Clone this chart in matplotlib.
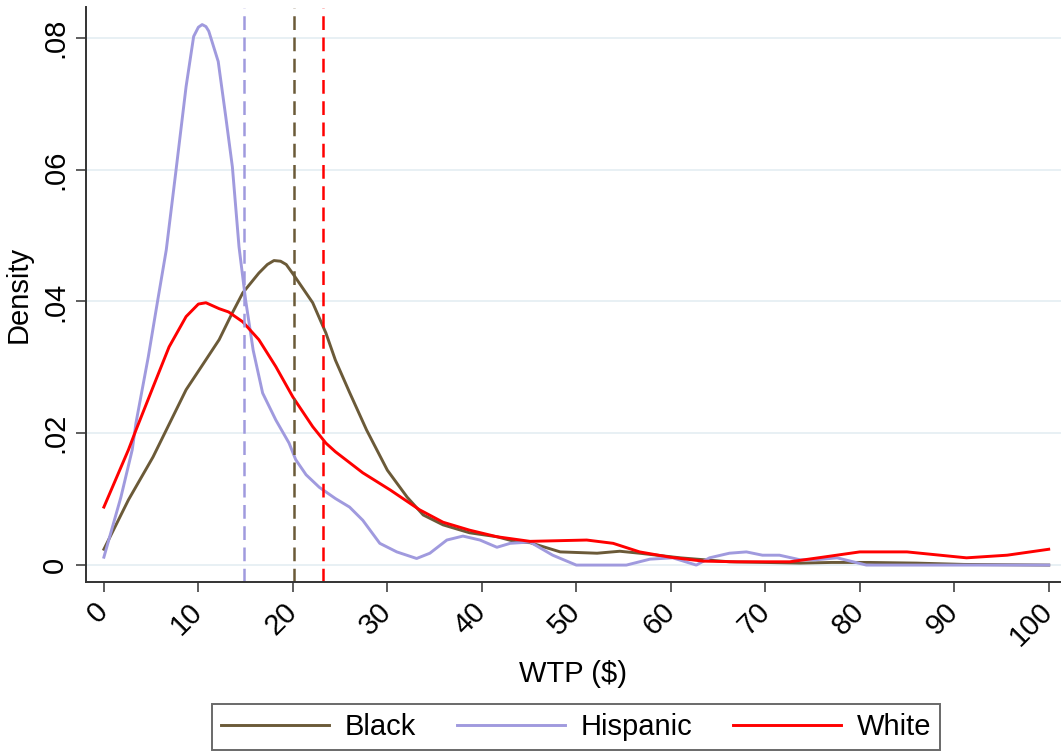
import numpy as np
import matplotlib
matplotlib.use("Agg")
import matplotlib.pyplot as plt

plt.rcParams['font.family'] = ['Liberation Sans', 'DejaVu Sans']

# kernel density curves (x = WTP, y = density)
black_x = [0, 2.6, 5.2, 8.7, 10.5, 12.2, 13.5, 14.7, 16.4, 17.3, 18.0, 18.7,
           19.3, 20.1, 22.1, 23.5, 24.5, 26.0, 27.8, 30.0, 32.1, 33.8, 35.9,
           38.7, 41.6, 43.7, 45.1, 48.3, 52.2, 54.6, 56.7, 61.0, 66.2, 73.7,
           77, 81, 86, 91, 100]
black_y = [0.0024, 0.0099, 0.0164, 0.0266, 0.0305, 0.0342, 0.0380, 0.0413,
           0.0443, 0.0456, 0.0462, 0.0461, 0.0456, 0.0440, 0.0398, 0.0352,
           0.0311, 0.0262, 0.0205, 0.0144, 0.0103, 0.0076, 0.0061, 0.0049,
           0.0043, 0.0035, 0.0034, 0.0020, 0.0018, 0.0021, 0.0018, 0.0011,
           0.0005, 0.0003, 0.0004, 0.0004, 0.0003, 0.0001, 0.0]

hisp_x = [0, 1.8, 3.0, 3.4, 4.7, 5.7, 6.6, 7.6, 8.7, 9.5, 10.0, 10.4, 10.8,
          11.1, 12.1, 12.9, 13.6, 14.3, 15.0, 15.8, 16.8, 18.2, 19.6, 20.3,
          21.4, 22.8, 24.5, 26.0, 27.4, 29.2, 31.0, 33.1, 34.5, 36.3, 38.0,
          39.8, 41.6, 43.0, 45.1, 47.5, 50.0, 55.3, 57.8, 60.2, 62.7, 64.1,
          66.2, 68.0, 69.7, 71.5, 73.7, 75.3, 77.6, 80.7, 100]
hisp_y = [0.0012, 0.0103, 0.0175, 0.0216, 0.0316, 0.0402, 0.0478, 0.0595,
          0.0726, 0.0802, 0.0816, 0.0820, 0.0817, 0.0810, 0.0764, 0.0680,
          0.0604, 0.0483, 0.0402, 0.0326, 0.0261, 0.0220, 0.0185, 0.0160,
          0.0137, 0.0118, 0.0101, 0.0088, 0.0068, 0.0033, 0.0020, 0.0010,
          0.0018, 0.0038, 0.0044, 0.0038, 0.0027, 0.0033, 0.0035, 0.0015,
          0.0, 0.0, 0.0009, 0.0011, 0.0, 0.0011, 0.0018, 0.0020, 0.0015,
          0.0015, 0.0008, 0.0008, 0.0011, 0.0, 0.0]

white_x = [0, 2.6, 3.4, 5.2, 6.9, 8.7, 10.0, 10.8, 12.2, 13.2, 14.7, 16.4,
           18.2, 20.0, 22.1, 23.5, 24.5, 27.4, 30.3, 33.4, 35.9, 38.7, 41.6,
           45.1, 51.1, 53.9, 56.7, 59.9, 63.4, 67.0, 72.6, 76.1, 80.0, 85.0,
           91.3, 95.6, 100]
white_y = [0.0088, 0.0175, 0.0205, 0.0270, 0.0331, 0.0377, 0.0396, 0.0398,
           0.0389, 0.0384, 0.0369, 0.0342, 0.0301, 0.0255, 0.0210, 0.0185,
           0.0172, 0.0140, 0.0114, 0.0084, 0.0065, 0.0053, 0.0043, 0.0036,
           0.0038, 0.0033, 0.0020, 0.0012, 0.0006, 0.0005, 0.0005, 0.0012,
           0.0020, 0.0020, 0.0011, 0.0015, 0.0024]

# group means (dashed lines)
mean_black = 20.1
mean_hisp = 14.8
mean_white = 23.2

xticks = [0, 10, 20, 30, 40, 50, 60, 70, 80, 90, 100]
yticks = [0, 0.02, 0.04, 0.06, 0.08]
ytick_labels = ["0", ".02", ".04", ".06", ".08"]

c_black = "#6b5a38"
c_hisp = "#a09ade"
c_white = "#ff0000"
fs = 21

fig = plt.figure(figsize=(10.61, 7.54), dpi=100)
ax = fig.add_axes([0.081, 0.228, 0.919, 0.763])

for y in yticks:
    ax.axhline(y, color="#e4eef2", lw=1.2, zorder=0)

ax.plot(black_x, black_y, color=c_black, lw=2.1, label="Black")
ax.plot(hisp_x, hisp_y, color=c_hisp, lw=2.1, label="Hispanic")
ax.plot(white_x, white_y, color=c_white, lw=2.1, label="White")

for m, c in [(mean_hisp, c_hisp), (mean_black, c_black), (mean_white, c_white)]:
    ax.axvline(m, color=c, lw=1.8, dashes=(5.5, 3), ymax=0.998)

ax.set_xlim(-1.9, 101.3)
ax.set_ylim(-0.00258, 0.0847)

ax.spines['top'].set_visible(False)
ax.spines['right'].set_visible(False)
for s in ['left', 'bottom']:
    ax.spines[s].set_linewidth(1.4)
    ax.spines[s].set_color("#333333")

ax.set_xticks(xticks)
ax.set_xticklabels([str(v) for v in xticks], fontsize=fs, rotation=45,
                   ha='right', va='center', rotation_mode='anchor')
ax.set_yticks(yticks)
ax.set_yticklabels(ytick_labels, fontsize=fs, rotation=90, va='center')
ax.tick_params(axis='both', length=7, width=1.1, color="#333333")
ax.tick_params(axis='x', pad=11)
ax.tick_params(axis='y', pad=5)

ax.set_xlabel("WTP ($)", fontsize=fs, labelpad=6)
ax.set_ylabel("Density", fontsize=fs, labelpad=6)

leg = fig.legend(loc='center', bbox_to_anchor=(0.543, 0.036), ncol=3,
                 fontsize=fs, frameon=True, fancybox=False, handlelength=3.7,
                 handletextpad=0.55, columnspacing=1.4, borderpad=0.3)
leg.get_frame().set_edgecolor("#444444")
leg.get_frame().set_linewidth(1.4)
for h in leg.get_lines():
    h.set_linewidth(2.1)

fig.savefig("out.png", dpi=100)
